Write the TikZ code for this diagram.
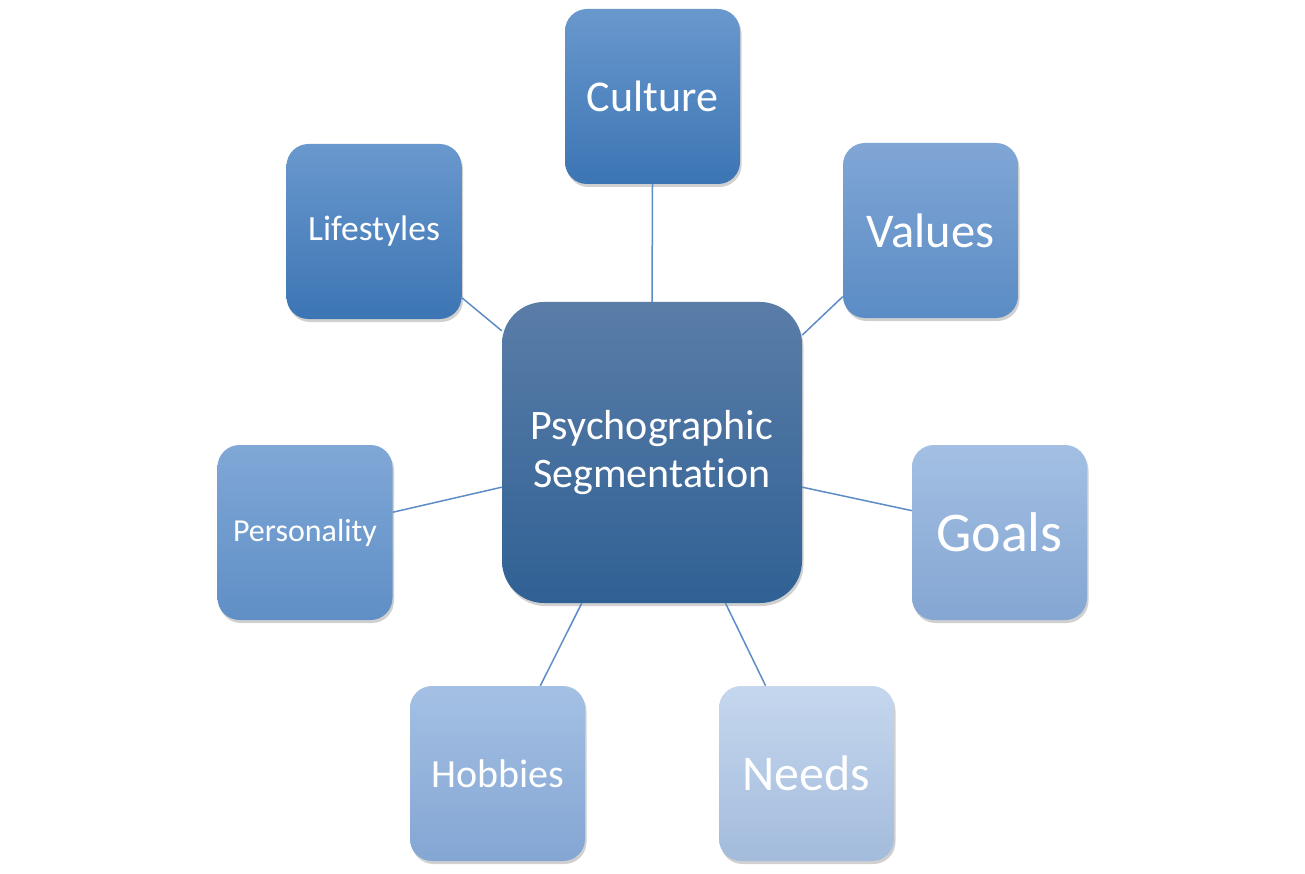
\documentclass[tikz,border=0pt]{standalone}
\usepackage{fontspec}
\setmainfont{Carlito}
\usetikzlibrary{shadows}
\definecolor{linec}{HTML}{5E8DC6}
\tikzset{
  boxnode/.style={rounded corners=22pt, minimum width=175pt, minimum height=175pt,
    inner sep=0pt, text=white, align=center,
    drop shadow={shadow xshift=1.5pt, shadow yshift=-3pt, opacity=0.3, fill=black!60}},
  link/.style={draw=linec, line width=1.5pt},
}
\begin{document}
\begin{tikzpicture}[x=1pt,y=-1pt]
\useasboundingbox[fill=white] (0,0) rectangle (1305,874);
\node[boxnode, minimum width=300pt, minimum height=301pt, rounded corners=42pt,
  top color={rgb,255:red,90;green,125;blue,168}, bottom color={rgb,255:red,48;green,97;blue,148},
  font=\fontsize{42}{48}\selectfont] (ctr) at (652,452.5) {Psychographic\\Segmentat\kern0pt ion};
\node[boxnode, top color={rgb,255:red,105;green,152;blue,205}, bottom color={rgb,255:red,60;green,117;blue,180},
  font=\fontsize{44}{48}\selectfont] (cul) at (652.5,96.5) {Culture};
\node[boxnode, top color={rgb,255:red,105;green,152;blue,205}, bottom color={rgb,255:red,60;green,117;blue,180},
  font=\fontsize{35.5}{40}\selectfont] (lif) at (374,231.5) {Lifestyles};
\node[boxnode, top color={rgb,255:red,128;green,166;blue,213}, bottom color={rgb,255:red,91;green,140;blue,197},
  font=\fontsize{48.5}{52}\selectfont] (val) at (930.5,230.5) {Values};
\node[boxnode, top color={rgb,255:red,128;green,167;blue,214}, bottom color={rgb,255:red,95;green,143;blue,198},
  font=\fontsize{32}{36}\selectfont] (per) at (305,532.5) {Personality};
\node[boxnode, top color={rgb,255:red,163;green,191;blue,227}, bottom color={rgb,255:red,132;green,166;blue,210},
  font=\fontsize{56}{60}\selectfont] (goa) at (999.5,532.5) {Goals};
\node[boxnode, top color={rgb,255:red,164;green,192;blue,228}, bottom color={rgb,255:red,132;green,166;blue,211},
  font=\fontsize{40}{44}\selectfont] (hob) at (497.5,773.5) {Hobbies};
\node[boxnode, top color={rgb,255:red,197;green,215;blue,238}, bottom color={rgb,255:red,163;green,187;blue,220},
  font=\fontsize{50}{54}\selectfont] (nee) at (806.5,773.5) {Needs};
\draw[link] (cul.south) -- (ctr.north);
\draw[link] (lif.-37.8) -- (ctr.141.2);
\draw[link] (val.217.6) -- (ctr.38.8);
\draw[link] (per.13.9) -- (ctr.193);
\draw[link] (goa.166.2) -- (ctr.-13);
\draw[link] (hob.64) -- (ctr.-115.9);
\draw[link] (nee.115.4) -- (ctr.-64.1);
\end{tikzpicture}
\end{document}
